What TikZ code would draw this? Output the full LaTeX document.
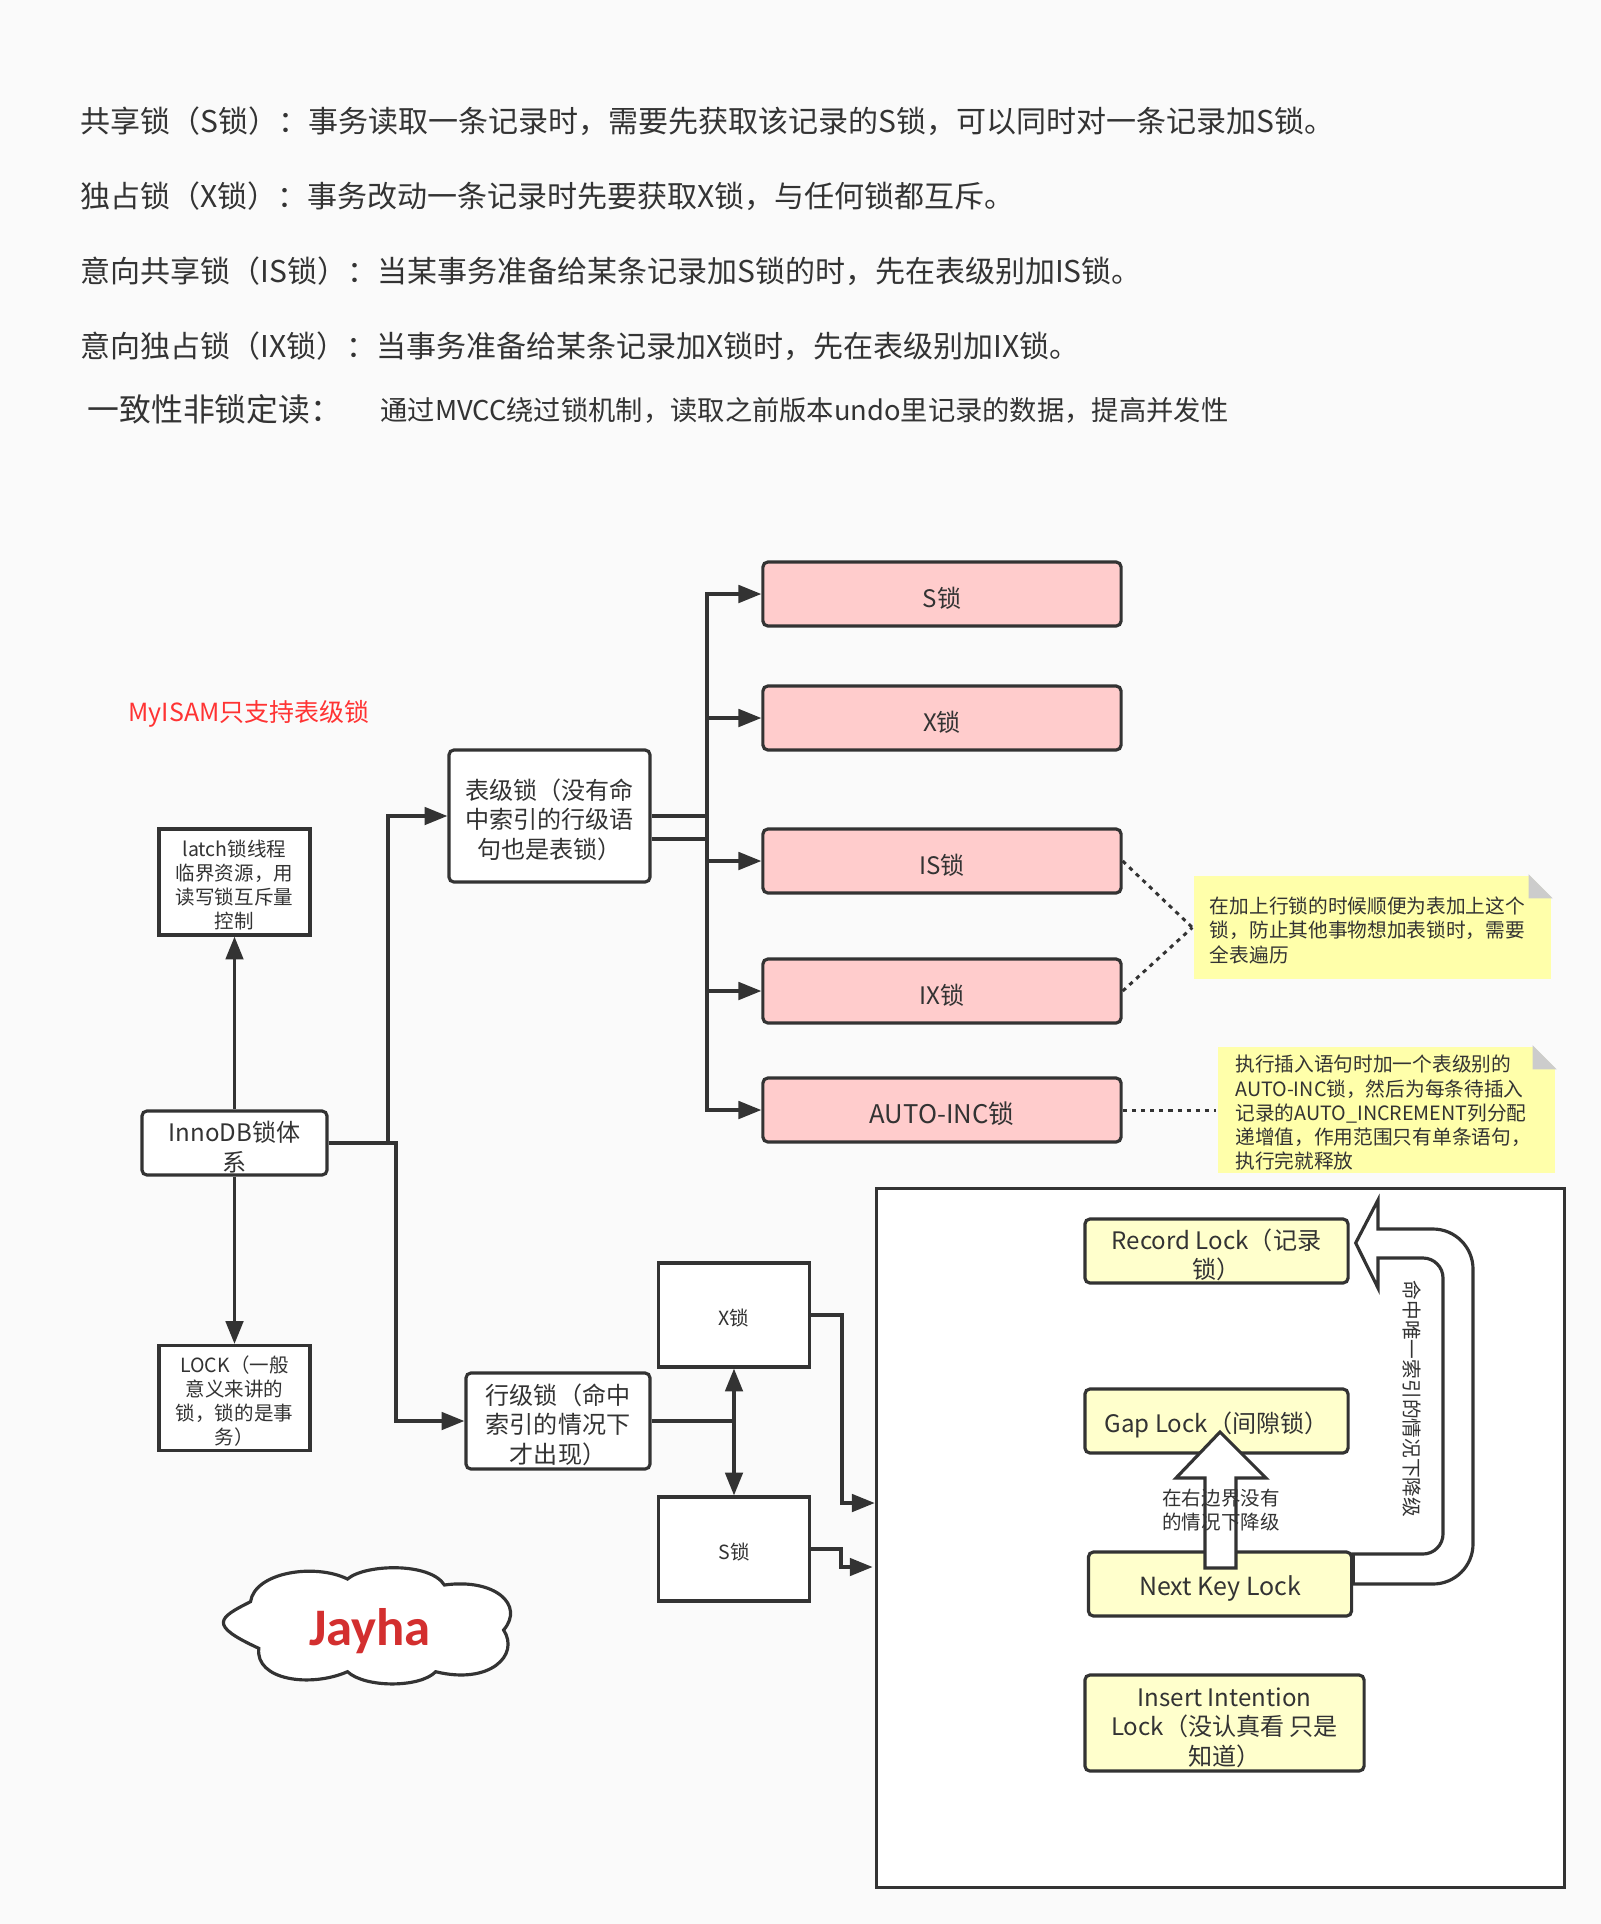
\documentclass[tikz,border=0pt]{standalone}
\usepackage{fontspec}
\setmainfont{Noto Sans CJK SC}
\newfontfamily\brandfont{Carlito}
\usetikzlibrary{arrows.meta}
\definecolor{ink}{HTML}{333333}
\definecolor{pagebg}{HTML}{FAFAFA}
\definecolor{pinkfill}{HTML}{FFCCCC}
\definecolor{creamfill}{HTML}{FFFFCC}
\definecolor{notefill}{HTML}{FFFFAA}
\definecolor{foldfill}{HTML}{CCCCCC}
\definecolor{brandred}{HTML}{D32F2F}
\newcommand{\liftbig}{\rule{0pt}{8pt}}
\newcommand{\liftsmall}{\rule{0pt}{6.3pt}}
\begin{document}
\begin{tikzpicture}[
  x=0.01cm, y=-0.01cm, line width=0.9pt, >={Triangle[length=6.5pt,width=5pt]},
  every node/.style={text=ink,inner sep=0pt,align=center},
  headline/.style={anchor=west,font=\fontsize{8.53}{10}\selectfont},
  roundbox/.style={draw=ink,fill=white,rounded corners=0.05cm,font=\fontsize{6.85}{8.4}\selectfont},
  pinkbox/.style={roundbox,fill=pinkfill,minimum width=3.58cm,minimum height=0.64cm,text height=8pt},
  creambox/.style={roundbox,fill=creamfill,minimum height=0.64cm},
  squarebox/.style={draw=ink,fill=white,font=\fontsize{5.55}{6.8}\selectfont},
  notebox/.style={fill=notefill,align=left,text height=6.3pt,font=\fontsize{5.6}{6.9}\selectfont},
  link/.style={draw=ink,->},
  dotlink/.style={draw=ink,line width=0.85pt,dash pattern=on 1.2pt off 1.4pt},
  bigarrow/.style={draw=ink,fill=white,line join=miter}
]
  \fill[pagebg] (0,0) rectangle (1601,1924);

  \node[headline] (t1) at (79,121) {共享锁（S锁）：事务读取一条记录时，需要先获取该记录的S锁，可以同时对一条记录加S锁。};
  \node[headline] (t2) at (79,196) {独占锁（X锁）：事务改动一条记录时先要获取X锁，与任何锁都互斥。};
  \node[headline] (t3) at (79,271) {意向共享锁（IS锁）：当某事务准备给某条记录加S锁的时，先在表级别加IS锁。};
  \node[headline] (t4) at (79,346) {意向独占锁（IX锁）：当事务准备给某条记录加X锁时，先在表级别加IX锁。};
  \node[headline,font=\fontsize{9.05}{11}\selectfont] (t5) at (86,409) {一致性非锁定读：};
  \node[headline,font=\fontsize{7.76}{9}\selectfont] (t6) at (379,410) {通过MVCC绕过锁机制，读取之前版本undo里记录的数据，提高并发性};
  \node[anchor=west,text=red!80!white,font=\fontsize{7.1}{9}\selectfont] (myisam) at (127,714) {MyISAM只支持表级锁};

  \node[squarebox,minimum width=1.51cm,minimum height=1.06cm] (latch) at (234.5,882) {\liftsmall latch锁线程\\临界资源，用\\读写锁互斥量\\控制};
  \node[roundbox,minimum width=1.85cm,minimum height=0.64cm] (inno) at (234.5,1143) {\liftbig InnoDB锁体\\系};
  \node[squarebox,minimum width=1.51cm,minimum height=1.05cm] (lock) at (234.5,1398) {\liftsmall LOCK（一般\\意义来讲的\\锁，锁的是事\\务）};
  \node[roundbox,minimum width=2.01cm,minimum height=1.32cm] (tbl) at (549.5,816) {\liftbig 表级锁（没有命\\中索引的行级语\\句也是表锁）};
  \node[roundbox,minimum width=1.84cm,minimum height=0.96cm] (row) at (558,1421) {\liftbig 行级锁（命中\\索引的情况下\\才出现）};

  \node[pinkbox] (s) at (942,594) {S锁};
  \node[pinkbox] (x) at (942,718) {X锁};
  \node[pinkbox] (is) at (942,861) {IS锁};
  \node[pinkbox] (ix) at (942,991) {IX锁};
  \node[pinkbox,font=\fontsize{7.3}{9}\selectfont] (auto) at (942,1110) {AUTO-INC锁};

  \node[notebox,minimum width=3.57cm,minimum height=1.03cm,text width=3.25cm] (note1) at (1372.5,927.5) {在加上行锁的时候顺便为表加上这个\\锁，防止其他事物想加表锁时，需要\\全表遍历};
  \node[notebox,minimum width=3.37cm,minimum height=1.26cm,text width=3.02cm] (note2) at (1386.5,1110) {执行插入语句时加一个表级别的\\AUTO-INC锁，然后为每条待插入\\记录的AUTO\_INCREMENT列分配\\递增值，作用范围只有单条语句，\\执行完就释放};
  \fill[pagebg] (note1.north east) -- ++(-24,0) -- ++(24,24) -- cycle;
  \fill[foldfill] (note1.north east) ++(-24,0) -- ++(0,24) -- ++(24,0) -- cycle;
  \fill[pagebg] (note2.north east) -- ++(-24,0) -- ++(24,24) -- cycle;
  \fill[foldfill] (note2.north east) ++(-24,0) -- ++(0,24) -- ++(24,0) -- cycle;

  \node[squarebox,minimum width=1.51cm,minimum height=1.04cm,text height=6.3pt] (lx) at (734,1315) {X锁};
  \node[squarebox,minimum width=1.51cm,minimum height=1.04cm,text height=6.3pt] (ls) at (734,1549) {S锁};
  \node[squarebox,minimum width=6.88cm,minimum height=6.98cm] (area) at (1220.5,1538) {};

  \node[creambox,minimum width=2.63cm] (record) at (1216.5,1251) {\liftbig Record Lock（记录\\锁）};
  \node[creambox,minimum width=2.63cm,text height=8pt] (gap) at (1216.5,1421) {Gap Lock（间隙锁）};
  \node[creambox,minimum width=2.63cm,text height=8pt,font=\fontsize{7.1}{9}\selectfont] (nextkey) at (1220,1584) {Next Key Lock};
  \node[creambox,minimum width=2.79cm,minimum height=0.96cm] (insert) at (1224.5,1723) {\liftbig Insert Intention\\Lock（没认真看 只是\\知道）};

  \coordinate (trunk) at (707,0);
  \coordinate (uptip) at (1220,1432);

  \draw[link] (inno) -- (latch);
  \draw[link] (inno) -- (lock);
  \draw[link] (inno.east) -- (388,1143) |- (tbl.west);
  \draw[link] (inno.east) -- (396,1143) |- (row.west);

  \draw[draw=ink,line width=1.2pt] (tbl.east) -- (trunk |- tbl.east);
  \draw[draw=ink] (tbl.east |- 0,839) -- (trunk |- 0,839);
  \draw[link] (trunk |- tbl.east) |- (s.west);
  \draw[link] (trunk |- tbl.east) |- (x.west);
  \draw[link] (trunk |- tbl.east) |- (is.west);
  \draw[link] (trunk |- tbl.east) |- (ix.west);
  \draw[link] (trunk |- tbl.east) |- (auto.west);

  \draw[dotlink] (is.east) -- (note1.west);
  \draw[dotlink] (ix.east) -- (note1.west);
  \draw[dotlink] (auto.east) -- (note2.west);

  \draw[draw=ink] (row.east) -- (lx.south |- row.east);
  \draw[link] (lx.south |- row.east) -- (lx.south);
  \draw[link] (lx.south |- row.east) -- (ls.north);
  \draw[link] (lx.east) -- (842,1315) -- (842,1503) -- (area.west |- 0,1503);
  \draw[link,shorten >=0.6pt] (ls.east) -- (841,1549) -- (841,1567) -- (area.west |- 0,1567);

  \draw[bigarrow] (record.east) ++(6,-8) -- (1378,1200) -- (1378,1229) -- (1433,1229)
    .. controls (1455,1229) and (1473,1247) .. (1473,1269) -- (1473,1544)
    .. controls (1473,1566) and (1455,1584) .. (1433,1584)
    -- (nextkey.east |- 0,1584) -- (nextkey.east |- 0,1554) -- (1423,1554)
    .. controls (1434,1554) and (1443,1545) .. (1443,1534) -- (1443,1278)
    .. controls (1443,1267) and (1434,1258) .. (1423,1258)
    -- (1378,1258) -- (1378,1288) -- cycle;
  \node[rotate=-90,font=\fontsize{5.6}{6.9}\selectfont] (downlabel) at (1412,1399) {命中唯一索引的情况下降级};

  \draw[bigarrow] (uptip) -- ++(46,46) -- ++(-30,0) -- ++(0,90) -- ++(-31,0) -- ++(0,-90) -- ++(-29,0) -- cycle;
  \node[font=\fontsize{5.55}{6.7}\selectfont] (uplabel) at (1221,1510) {在右边界没有\\的情况下降级};

  \draw[draw=ink,fill=white] (250.5,1601.7)
    .. controls (255,1572) and (315,1563) .. (347.5,1579)
    .. controls (365,1564) and (430,1562) .. (444.4,1585)
    .. controls (495,1578) and (525,1605) .. (503.6,1630)
    .. controls (520,1655) and (490,1685) .. (435.7,1671.7)
    .. controls (420,1688) and (365,1688) .. (347.5,1671.7)
    .. controls (310,1688) and (255,1680) .. (258.8,1648.3)
    .. controls (208,1625) and (218,1618) .. cycle;
  \node[text=brandred,font=\fontsize{15}{18}\selectfont\brandfont\bfseries] (brand) at (370,1631) {Jayha};
\end{tikzpicture}
\end{document}
